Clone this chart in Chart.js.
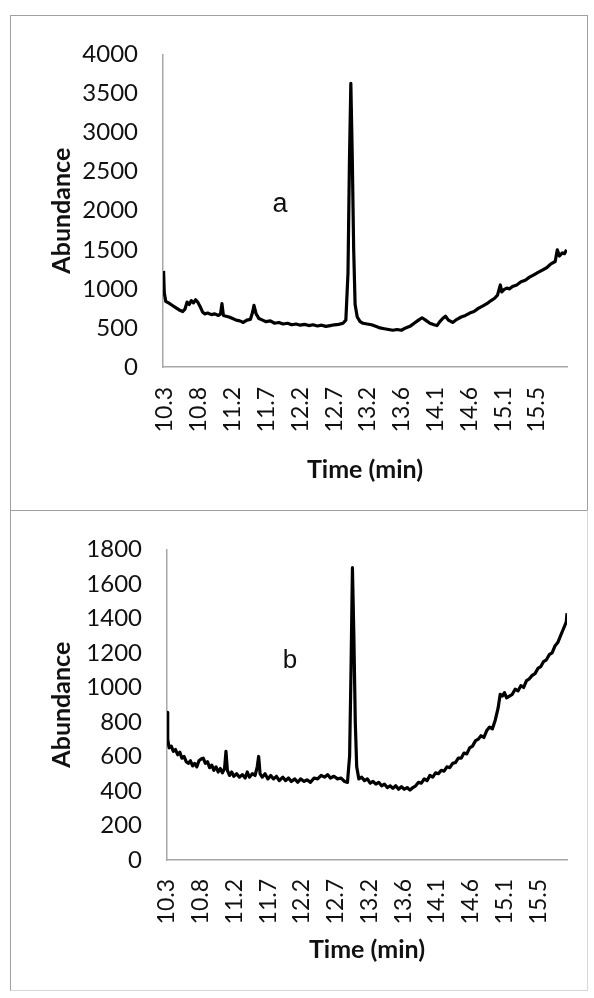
<!DOCTYPE html>
<html>
<head>
<meta charset="utf-8">
<script src="https://cdn.jsdelivr.net/npm/chart.js@4.4.1/dist/chart.umd.min.js"></script>
<style>
  html, body { margin: 0; padding: 0; background: #fff; }
  body { width: 594px; height: 998px; position: relative; overflow: hidden; }
  .panel { position: absolute; left: 10px; width: 578px; box-sizing: border-box; border: 1.5px solid #a0a0a0; }
  #panelA { top: 15px; height: 496px; }
  #panelB { top: 510px; height: 481px; border-color: #a0a0a0 #d8d8d8 #d8d8d8 #a0a0a0; }
  canvas { position: absolute; left: 10px; }
  #chartA { top: 15px; }
  #chartB { top: 510px; }
  .tag { position: absolute; font-family: "Liberation Sans", Arial, sans-serif; color: #111;
         transform: translate(-50%, -50%); line-height: 1; }
</style>
</head>
<body>
<div class="panel" id="panelA"></div>
<div class="panel" id="panelB"></div>
<canvas id="chartA" width="578" height="495"></canvas>
<canvas id="chartB" width="578" height="480"></canvas>
<div class="tag" style="left:280px; top:203px; font-size:27px;">a</div>
<div class="tag" style="left:290px; top:659px; font-size:26px;">b</div>
<script>
const xTickValues = [10.3, 10.775, 11.25, 11.725, 12.2, 12.675, 13.15, 13.625, 14.1, 14.575, 15.05, 15.525];
const xTickLabels = ['10.3', '10.8', '11.2', '11.7', '12.2', '12.7', '13.2', '13.6', '14.1', '14.6', '15.1', '15.5'];
const yTicksA = [0, 500, 1000, 1500, 2000, 2500, 3000, 3500, 4000];
const yTicksB = [0, 200, 400, 600, 800, 1000, 1200, 1400, 1600, 1800];

// amostra a
const timeA = [10.28, 10.29, 10.31, 10.35, 10.40, 10.45, 10.50, 10.55, 10.58, 10.61, 10.64, 10.67, 10.70, 10.73, 10.76,
  10.80, 10.83, 10.86, 10.90, 10.95, 11.00, 11.05, 11.08, 11.10, 11.12, 11.16, 11.20, 11.25, 11.30, 11.35, 11.40,
  11.45, 11.50, 11.53, 11.55, 11.58, 11.62, 11.67, 11.72, 11.78, 11.84, 11.90, 11.96, 12.02, 12.08, 12.14, 12.20,
  12.26, 12.32, 12.38, 12.44, 12.50, 12.56, 12.62, 12.68, 12.74, 12.80, 12.84, 12.87, 12.89, 12.91, 12.93, 12.95,
  12.97, 13.00, 13.04, 13.08, 13.14, 13.20, 13.26, 13.32, 13.38, 13.44, 13.50, 13.56, 13.62, 13.68, 13.74, 13.80,
  13.86, 13.91, 13.96, 14.02, 14.08, 14.12, 14.16, 14.20, 14.24, 14.28, 14.34, 14.40, 14.46, 14.52, 14.58, 14.64,
  14.70, 14.76, 14.82, 14.88, 14.93, 14.97, 15.01, 15.03, 15.06, 15.10, 15.14, 15.18, 15.24, 15.30, 15.36, 15.42,
  15.48, 15.54, 15.60, 15.66, 15.72, 15.78, 15.81, 15.84, 15.88, 15.91, 15.94];
const abundA = [1230, 950, 840, 820, 790, 760, 730, 710, 740, 830, 800, 850, 820, 860, 830,
  760, 700, 680, 690, 670, 680, 660, 680, 810, 660, 650, 640, 620, 600, 590, 570,
  600, 610, 700, 790, 680, 620, 600, 580, 590, 560, 570, 550, 560, 540, 550, 535,
  545, 530, 540, 525, 535, 520, 530, 540, 545, 560, 600, 1200, 2600, 3630, 2700, 1500,
  800, 640, 580, 560, 550, 540, 520, 500, 490, 480, 470, 480, 470, 500, 520, 560,
  600, 630, 600, 560, 540, 530, 580, 620, 650, 600, 570, 610, 640, 660, 690, 710,
  750, 780, 810, 850, 880, 920, 1050, 960, 990, 1010, 1000, 1030, 1050, 1090, 1110, 1150,
  1180, 1210, 1240, 1270, 1320, 1350, 1500, 1420, 1460, 1450, 1500];

// amostra b
const timeB = [10.30, 10.31, 10.33, 10.36, 10.39, 10.42, 10.45, 10.48, 10.51, 10.54, 10.57, 10.60, 10.63, 10.66, 10.69,
  10.72, 10.75, 10.78, 10.81, 10.84, 10.87, 10.90, 10.93, 10.96, 10.99, 11.02, 11.05, 11.08, 11.11, 11.13, 11.15,
  11.18, 11.21, 11.24, 11.28, 11.32, 11.36, 11.40, 11.43, 11.46, 11.50, 11.54, 11.57, 11.59, 11.61, 11.64, 11.68,
  11.72, 11.76, 11.80, 11.84, 11.88, 11.93, 11.97, 12.01, 12.05, 12.10, 12.14, 12.18, 12.23, 12.27, 12.32, 12.37,
  12.42, 12.47, 12.52, 12.56, 12.60, 12.65, 12.70, 12.75, 12.80, 12.84, 12.87, 12.89, 12.91, 12.93, 12.95, 12.97,
  13.00, 13.04, 13.08, 13.12, 13.16, 13.20, 13.24, 13.28, 13.32, 13.36, 13.40, 13.44, 13.48, 13.52, 13.56, 13.60,
  13.64, 13.68, 13.72, 13.76, 13.80, 13.84, 13.88, 13.92, 13.96, 14.00, 14.04, 14.08, 14.12, 14.16, 14.20, 14.24,
  14.28, 14.32, 14.36, 14.40, 14.44, 14.48, 14.52, 14.56, 14.60, 14.64, 14.68, 14.72, 14.76, 14.80, 14.84, 14.88,
  14.92, 14.96, 14.99, 15.02, 15.05, 15.08, 15.12, 15.16, 15.20, 15.24, 15.28, 15.32, 15.36, 15.40, 15.44, 15.48,
  15.52, 15.56, 15.60, 15.64, 15.68, 15.72, 15.76, 15.80, 15.84, 15.87, 15.90, 15.92, 15.93];
const abundB = [855, 700, 650, 660, 630, 640, 610, 625, 590, 600, 570, 560, 575, 545, 560,
  540, 575, 585, 590, 560, 570, 535, 550, 520, 540, 510, 530, 505, 530, 630, 520,
  490, 510, 485, 500, 480, 495, 475, 510, 480, 500, 490, 540, 600, 500, 480, 500,
  470, 490, 470, 485, 460, 480, 460, 475, 455, 470, 450, 470, 455, 465, 450, 475,
  470, 490, 480, 495, 475, 485, 470, 475, 455, 450, 600, 1100, 1694, 1300, 800, 540,
  470, 480, 460, 470, 445, 455, 440, 450, 430, 440, 420, 430, 415, 430, 410, 425,
  410, 420, 405, 420, 430, 450, 445, 470, 460, 490, 480, 505, 500, 520, 515, 540,
  535, 560, 565, 590, 590, 620, 615, 650, 660, 690, 700, 720, 710, 750, 770, 760,
  810, 880, 960, 950, 970, 940, 950, 960, 990, 980, 1010, 1000, 1040, 1050, 1070, 1080,
  1110, 1120, 1150, 1160, 1190, 1200, 1240, 1260, 1300, 1330, 1360, 1380, 1430];

const tickColor = '#111';
const axisColor = '#a8a8a8';

function buildChart(canvasId, times, values, yTicks, cfg) {
  const points = times.map((t, i) => ({ x: t, y: values[i] }));
  return new Chart(document.getElementById(canvasId), {
    type: 'line',
    data: {
      datasets: [{
        data: points,
        borderColor: '#000',
        borderWidth: 3.2,
        borderJoinStyle: 'round',
        pointRadius: 0,
        tension: 0,
        fill: false
      }]
    },
    options: {
      responsive: false,
      animation: false,
      devicePixelRatio: 1,
      layout: { padding: cfg.padding },
      plugins: { legend: { display: false }, tooltip: { enabled: false } },
      scales: {
        x: {
          type: 'linear',
          min: cfg.xMin,
          max: cfg.xMax,
          afterBuildTicks: s => { s.ticks = xTickValues.map(v => ({ value: v })); },
          afterFit: s => { s.height = cfg.xHeight; },
          grid: { display: false, drawTicks: false },
          border: { display: true, color: axisColor, width: 1.5 },
          ticks: {
            autoSkip: false,
            minRotation: 90,
            maxRotation: 90,
            padding: cfg.xPad,
            color: tickColor,
            font: { family: 'Lato', size: 23 },
            callback: (v, i) => xTickLabels[i]
          },
          title: {
            display: true,
            text: 'Time (min)',
            color: tickColor,
            padding: 0,
            font: { family: 'Lato', size: 25, weight: 'bold', lineHeight: 1.2 }
          }
        },
        y: {
          min: yTicks[0],
          max: yTicks[yTicks.length - 1],
          afterBuildTicks: s => { s.ticks = yTicks.map(v => ({ value: v })); },
          afterFit: s => { s.width = cfg.yWidth; },
          grid: { display: false, drawTicks: false },
          border: { display: true, color: axisColor, width: 1.5 },
          ticks: {
            padding: 25,
            color: tickColor,
            font: { family: 'Lato', size: 24 },
            callback: v => String(v)
          },
          title: {
            display: true,
            text: 'Abundance',
            color: tickColor,
            padding: 0,
            font: { family: 'Lato', size: 25, weight: 'bold', lineHeight: 1.2 }
          }
        }
      }
    }
  });
}

buildChart('chartA', timeA, abundA, yTicksA, {
  padding: { left: 37, top: 30, right: 21, bottom: 25 },
  xMin: 10.272, xMax: 15.946, xHeight: 118, yWidth: 116, xPad: 20
});

buildChart('chartB', timeB, abundB, yTicksB, {
  padding: { left: 37, top: 27, right: 21, bottom: 25 },
  xMin: 10.3, xMax: 15.93, xHeight: 105, yWidth: 120, xPad: 19
});
</script>
</body>
</html>
